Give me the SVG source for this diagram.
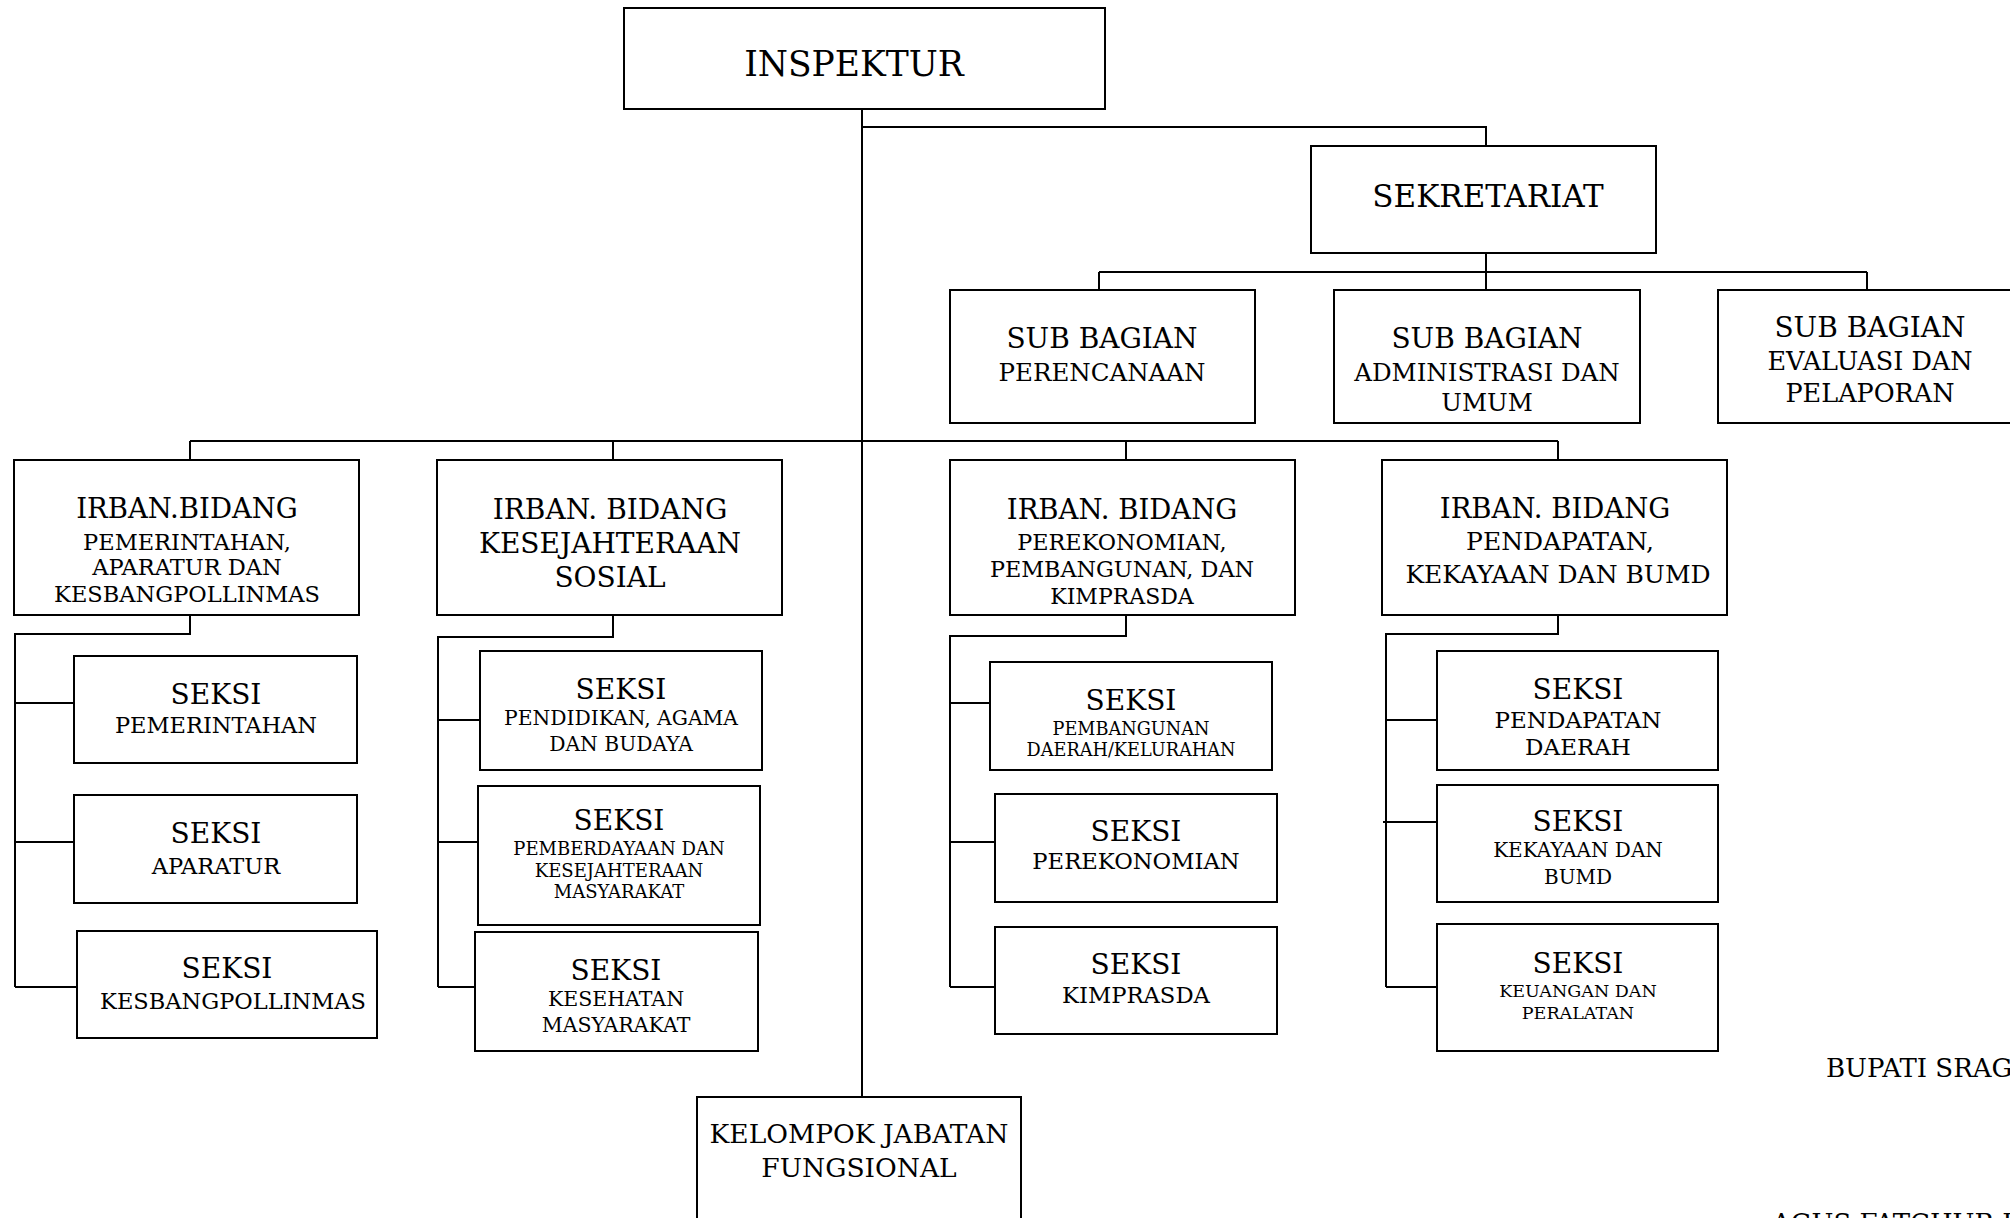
<svg xmlns="http://www.w3.org/2000/svg" width="2010" height="1218" viewBox="0 0 2010 1218">
<style>
.box{fill:#fff;stroke:#000;stroke-width:2}
.ln{fill:none;stroke:#000;stroke-width:2}
text{font-family:"DejaVu Serif","Liberation Serif",serif;fill:#000;text-anchor:middle}
.big{font-size:27.5px}
.sk{font-size:28px}
</style>
<rect width="2010" height="1218" fill="#fff"/>
<g id="connectors" class="ln">
<path d="M862 109V1097"/>
<path d="M862 127H1486V146"/>
<path d="M1486 253V290M1099 272H1867M1099 272V290M1867 272V290"/>
<path d="M190 441H1558M190 441V460M613 441V460M1126 441V460M1558 441V460"/>
<path d="M190 615V634H15V987M15 703H74M15 842H74M15 987H77"/>
<path d="M613 615V637H438V987M438 720H480M438 842H478M438 987H475"/>
<path d="M1126 615V636H950V987M950 703H990M950 842H995M950 987H995"/>
<path d="M1558 615V634H1386V987M1386 720H1437M1383 822H1437M1386 987H1437"/>
</g>
<g id="inspektur"><rect class="box" x="624" y="8" width="481" height="101"/><text x="854" y="76" font-size="34.5">INSPEKTUR</text></g>
<g id="sekretariat"><rect class="box" x="1311" y="146" width="345" height="107"/><text x="1488" y="207" font-size="31">SEKRETARIAT</text></g>
<g id="sub-perencanaan"><rect class="box" x="950" y="290" width="305" height="133"/><text x="1102" y="348" font-size="28">SUB BAGIAN</text><text x="1102" y="381" font-size="24.5">PERENCANAAN</text></g>
<g id="sub-administrasi"><rect class="box" x="1334" y="290" width="306" height="133"/><text x="1487" y="348" font-size="28">SUB BAGIAN</text><text x="1487" y="381" font-size="24.5">ADMINISTRASI DAN</text><text x="1487" y="411" font-size="24.5">UMUM</text></g>
<g id="sub-evaluasi"><rect class="box" x="1718" y="290" width="320" height="133"/><text x="1870" y="337" font-size="28">SUB BAGIAN</text><text x="1870" y="370" font-size="25.5">EVALUASI DAN</text><text x="1870" y="402" font-size="25.5">PELAPORAN</text></g>
<g id="irban-pemerintahan"><rect class="box" x="14" y="460" width="345" height="155"/><text x="187" y="518" class="big">IRBAN.BIDANG</text><text x="187" y="550" font-size="22.5">PEMERINTAHAN,</text><text x="187" y="575" font-size="22.5">APARATUR DAN</text><text x="187" y="602" font-size="22.5">KESBANGPOLLINMAS</text></g>
<g id="irban-kesra"><rect class="box" x="437" y="460" width="345" height="155"/><text x="610" y="519" font-size="28">IRBAN. BIDANG</text><text x="610" y="553" font-size="28">KESEJAHTERAAN</text><text x="610" y="587" font-size="28">SOSIAL</text></g>
<g id="irban-perekonomian"><rect class="box" x="950" y="460" width="345" height="155"/><text x="1122" y="519" class="big">IRBAN. BIDANG</text><text x="1122" y="550" font-size="22.3">PEREKONOMIAN,</text><text x="1122" y="577" font-size="22.3">PEMBANGUNAN, DAN</text><text x="1122" y="604" font-size="22">KIMPRASDA</text></g>
<g id="irban-pendapatan"><rect class="box" x="1382" y="460" width="345" height="155"/><text x="1555" y="518" class="big">IRBAN. BIDANG</text><text x="1560" y="550" font-size="25">PENDAPATAN,</text><text x="1558" y="583" font-size="25">KEKAYAAN DAN BUMD</text></g>
<g id="seksi-pemerintahan"><rect class="box" x="74" y="656" width="283" height="107"/><text x="216" y="704" class="sk">SEKSI</text><text x="216" y="733" font-size="22.5">PEMERINTAHAN</text></g>
<g id="seksi-aparatur"><rect class="box" x="74" y="795" width="283" height="108"/><text x="216" y="843" class="sk">SEKSI</text><text x="216" y="874" font-size="22.5">APARATUR</text></g>
<g id="seksi-kesbangpollinmas"><rect class="box" x="77" y="931" width="300" height="107"/><text x="227" y="978" class="sk">SEKSI</text><text x="233" y="1009" font-size="22.5">KESBANGPOLLINMAS</text></g>
<g id="seksi-pendidikan"><rect class="box" x="480" y="651" width="282" height="119"/><text x="621" y="699" class="sk">SEKSI</text><text x="621" y="725" font-size="20.3">PENDIDIKAN, AGAMA</text><text x="621" y="751" font-size="20.3">DAN BUDAYA</text></g>
<g id="seksi-pemberdayaan"><rect class="box" x="478" y="786" width="282" height="139"/><text x="619" y="830" class="sk">SEKSI</text><text x="619" y="855" font-size="18">PEMBERDAYAAN DAN</text><text x="619" y="877" font-size="18">KESEJAHTERAAN</text><text x="619" y="898" font-size="18">MASYARAKAT</text></g>
<g id="seksi-kesehatan"><rect class="box" x="475" y="932" width="283" height="119"/><text x="616" y="980" class="sk">SEKSI</text><text x="616" y="1006" font-size="20.5">KESEHATAN</text><text x="616" y="1032" font-size="20.5">MASYARAKAT</text></g>
<g id="seksi-pembangunan"><rect class="box" x="990" y="662" width="282" height="108"/><text x="1131" y="710" class="sk">SEKSI</text><text x="1131" y="735" font-size="17.7">PEMBANGUNAN</text><text x="1131" y="756" font-size="17.7">DAERAH/KELURAHAN</text></g>
<g id="seksi-perekonomian"><rect class="box" x="995" y="794" width="282" height="108"/><text x="1136" y="841" class="sk">SEKSI</text><text x="1136" y="869" font-size="22.7">PEREKONOMIAN</text></g>
<g id="seksi-kimprasda"><rect class="box" x="995" y="927" width="282" height="107"/><text x="1136" y="974" class="sk">SEKSI</text><text x="1136" y="1003" font-size="22.7">KIMPRASDA</text></g>
<g id="seksi-pendapatan"><rect class="box" x="1437" y="651" width="281" height="119"/><text x="1578" y="699" class="sk">SEKSI</text><text x="1578" y="728" font-size="23">PENDAPATAN</text><text x="1578" y="755" font-size="23">DAERAH</text></g>
<g id="seksi-kekayaan"><rect class="box" x="1437" y="785" width="281" height="117"/><text x="1578" y="831" class="sk">SEKSI</text><text x="1578" y="857" font-size="20">KEKAYAAN DAN</text><text x="1578" y="884" font-size="20">BUMD</text></g>
<g id="seksi-keuangan"><rect class="box" x="1437" y="924" width="281" height="127"/><text x="1578" y="973" class="sk">SEKSI</text><text x="1578" y="997" font-size="17.5">KEUANGAN DAN</text><text x="1578" y="1019" font-size="17.5">PERALATAN</text></g>
<g id="kelompok-fungsional"><rect class="box" x="697" y="1097" width="324" height="160"/><text x="859" y="1143" font-size="26.5">KELOMPOK JABATAN</text><text x="859" y="1177" font-size="26.5">FUNGSIONAL</text></g>
<g id="signature"><text x="1826" y="1077" font-size="26" style="text-anchor:start">BUPATI SRAGEN</text><text x="1772" y="1232" font-size="26" style="text-anchor:start">AGUS FATCHUR RAHMAN</text></g>
</svg>
